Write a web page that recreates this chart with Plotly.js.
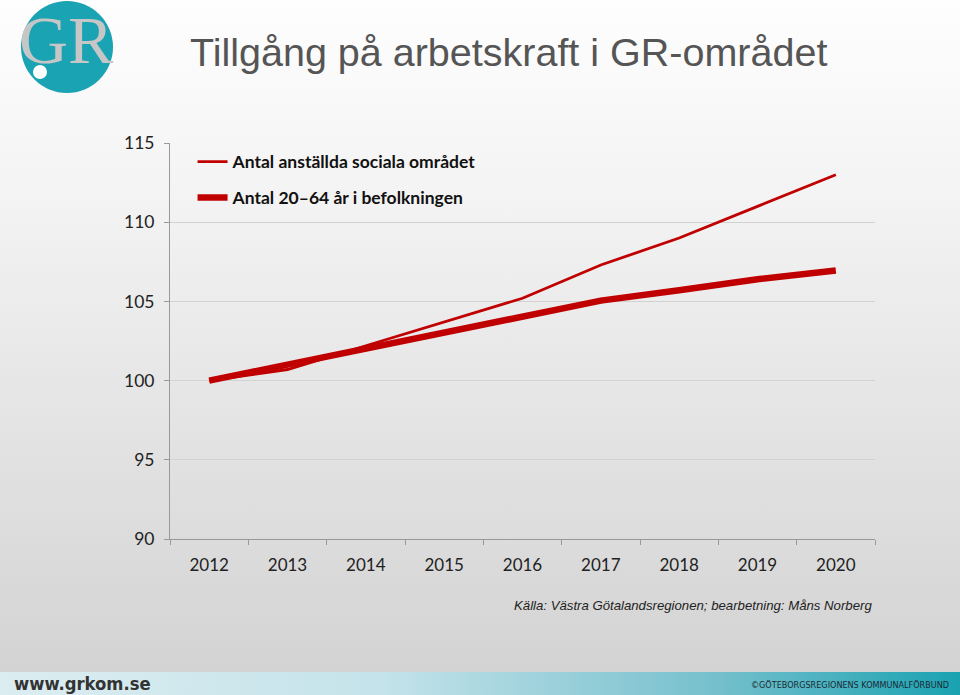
<!DOCTYPE html>
<html>
<head>
<meta charset="utf-8">
<script src="https://cdn.plot.ly/plotly-3.0.1.min.js"></script>
<style>
  html, body { margin: 0; padding: 0; }
  body { width: 960px; height: 695px; overflow: hidden; position: relative;
         background: linear-gradient(to bottom, #fefefe 0px, #f3f3f3 200px, #e2e2e2 450px, #d3d3d3 672px); }
  #footer { position: absolute; left: 0; top: 672px; width: 960px; height: 23px;
            background: linear-gradient(to right, #dcedf1 0%, #c4e3ea 40%, #74bfcc 75%, #1aa2b1 100%); }
  #chart { position: absolute; left: 0; top: 0; width: 960px; height: 695px; }
</style>
</head>
<body>
<div id="footer"></div>
<div id="chart"></div>
<script>
const years = ["2012", "2013", "2014", "2015", "2016", "2017", "2018", "2019", "2020"];
const anstallda = [100, 100.7, 102.2, 103.7, 105.2, 107.3, 109.0, 111.0, 113.0];
const befolkning = [100, 101.0, 102.1, 103.0, 104.1, 105.05, 105.7, 106.4, 106.95];
const yTicks = [90, 95, 100, 105, 110, 115];
const seriesNames = ["Antal anställda sociala området", "Antal 20\u201364 år i befolkningen"];

const traces = [
  { x: years, y: anstallda, name: "<b>" + seriesNames[0] + "</b>", legendgroup: "a", type: "scatter", mode: "lines",
    line: { color: "#c00000", width: 2.8 } },
  { x: years, y: befolkning, name: "<b>" + seriesNames[1] + "</b>", legendgroup: "b", type: "scatter", mode: "lines",
    line: { color: "#c00000", width: 6.5 } }
];

const layout = {
  width: 960, height: 695,
  margin: { l: 170, r: 85, t: 143, b: 156 },
  paper_bgcolor: "rgba(0,0,0,0)",
  plot_bgcolor: "rgba(0,0,0,0)",
  font: { family: "Lato, 'Open Sans', sans-serif", color: "#222" },
  showlegend: true,
  legend: { x: 0.032, y: 0.998, xanchor: "left", yanchor: "top",
            bgcolor: "rgba(0,0,0,0)", font: { size: 17.5, color: "#111" },
            tracegroupgap: 10, itemwidth: 30 },
  xaxis: { type: "category", range: [-0.5, 8.5], showgrid: false,
           showline: true, linecolor: "#999", linewidth: 1,
           ticks: "outside", tickson: "boundaries", ticklen: 5, tickcolor: "#999",
           tickfont: { size: 17, color: "#222" }, ticklabelstandoff: 11, fixedrange: true },
  yaxis: { range: [90, 115], tickvals: yTicks, showgrid: true, gridcolor: "#d2d2d2", gridwidth: 1,
           showline: true, linecolor: "#999", linewidth: 1, zeroline: false,
           ticks: "outside", ticklen: 5, tickcolor: "#999",
           tickfont: { size: 17.5, color: "#222" }, ticklabelstandoff: 6, fixedrange: true },
  shapes: [
    { type: "circle", xref: "paper", yref: "paper", xsizemode: "pixel", ysizemode: "pixel",
      xanchor: 0, yanchor: 0, x0: -149, x1: -57, y0: 446, y1: 538, fillcolor: "#1aa3b2", line: { width: 0 } },
    { type: "circle", xref: "paper", yref: "paper", xsizemode: "pixel", ysizemode: "pixel",
      xanchor: 0, yanchor: 0, x0: -137, x1: -123, y0: 460, y1: 474, fillcolor: "#ffffff", line: { width: 0 } }
  ],
  annotations: [
    { text: "Tillgång på arbetskraft i GR-området", xref: "paper", yref: "paper",
      x: (188 - 170) / 705, y: 1 + (143 - 52) / 396, xanchor: "left", yanchor: "middle", showarrow: false,
      font: { family: "'Liberation Sans', Arial, sans-serif", size: 39.5, color: "#555555" } },
    { text: "GR", xref: "paper", yref: "paper",
      x: (66 - 170) / 705, y: 1 + (143 - 40) / 396, xanchor: "center", yanchor: "middle", showarrow: false,
      font: { family: "'Liberation Serif', 'DejaVu Serif', serif", size: 68, color: "#c6c6c6" } },
    { text: "Källa: Västra Götalandsregionen; bearbetning: Måns Norberg", xref: "paper", yref: "paper",
      x: (874 - 170) / 705, y: -(605 - 539) / 396, xanchor: "right", yanchor: "middle", showarrow: false,
      font: { family: "'Liberation Sans', Arial, sans-serif", size: 13.2, color: "#222", style: "italic" } },
    { text: "<b>www.grkom.se</b>", xref: "paper", yref: "paper",
      x: (12 - 170) / 705, y: -(683 - 539) / 396, xanchor: "left", yanchor: "middle", showarrow: false,
      font: { family: "'DejaVu Sans Condensed', 'DejaVu Sans', sans-serif", size: 18.3, color: "#333" } },
    { text: "©GÖTEBORGSREGIONENS KOMMUNALFÖRBUND", xref: "paper", yref: "paper",
      x: (951 - 170) / 705, y: -(685 - 539) / 396, xanchor: "right", yanchor: "middle", showarrow: false,
      font: { family: "'DejaVu Sans Condensed', 'DejaVu Sans', sans-serif", size: 9, color: "#1a2a33" } }
  ]
};

Plotly.newPlot("chart", traces, layout, { displayModeBar: false, staticPlot: true });
</script>
</body>
</html>
